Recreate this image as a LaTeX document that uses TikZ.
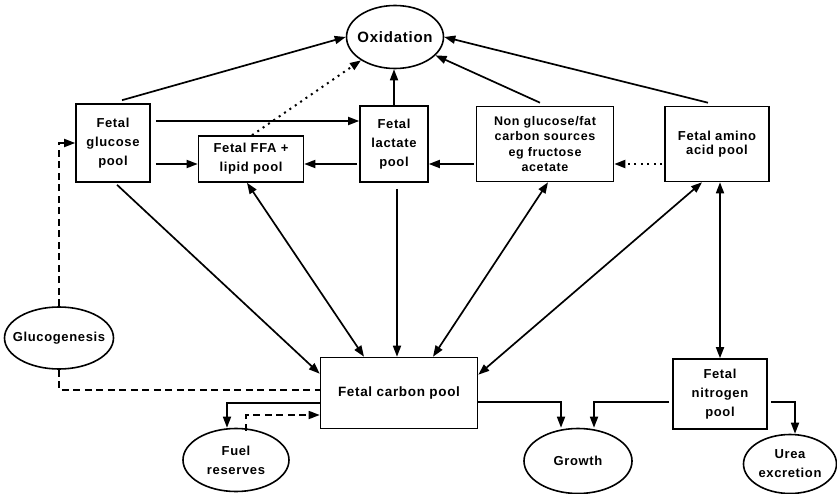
\documentclass[tikz,border=0pt]{standalone}
\usepackage{fontspec}
\setmainfont{Liberation Sans}[LetterSpace=5]
\usetikzlibrary{arrows.meta,shapes.geometric}
\begin{document}
\begin{tikzpicture}[
    x=1pt, y=-1pt,
    >={Triangle[length=11pt,width=8pt]},
    font=\bfseries\fontsize{13}{19}\selectfont,
    pool/.style={draw, line width=1.6pt, align=center, inner sep=0pt},
    proc/.style={draw, ellipse, line width=1.6pt, align=center, inner sep=0pt},
    flow/.style={line width=1.7pt, ->},
    dashline/.style={line width=1.7pt, dash pattern=on 7pt off 4.5pt},
    dotline/.style={line width=2pt, dash pattern=on 2pt off 4.5pt}
    ]
    \useasboundingbox (0,0) rectangle (837,494);
	\node [proc, minimum width=97pt, minimum height=63pt, inner xsep=-8pt, font=\bfseries\fontsize{15}{18}\selectfont] (oxid) at (395,37) {Oxidation};
	\node [pool, minimum width=74pt, minimum height=78pt] (gluc) at (113,143) {Fetal\\glucose\\pool};
	\node [pool, minimum width=105pt, minimum height=46pt] (ffa) at (251,159) {Fetal FFA +\\lipid pool};
	\node [pool, minimum width=68pt, minimum height=76pt] (lact) at (394,144) {Fetal\\lactate\\pool};
	\node [pool, minimum width=137pt, minimum height=75pt, font=\bfseries\fontsize{12.5}{15.5}\selectfont] (nong) at (545,144) {Non glucose/fat\\carbon sources\\eg fructose\\acetate};
	\node [pool, minimum width=104pt, minimum height=75pt, font=\bfseries\fontsize{13}{14.5}\selectfont] (amino) at (717,144) {Fetal amino\\acid pool};
	\node [proc, minimum width=109pt, minimum height=62pt, inner xsep=-12pt] (gluco) at (59,338) {Glucogenesis};
	\node [pool, minimum width=157pt, minimum height=71pt, font=\bfseries\fontsize{13.5}{19}\selectfont] (carb) at (399,393) {Fetal carbon pool};
	\node [pool, minimum width=94pt, minimum height=70pt] (nitro) at (720,394) {Fetal\\nitrogen\\pool};
	\node [proc, minimum width=106pt, minimum height=63pt] (fuel) at (236,460) {Fuel\\reserves};
	\node [proc, minimum width=108pt, minimum height=65pt] (growth) at (578,461) {Growth};
	\node [proc, minimum width=93pt, minimum height=59pt, inner xsep=-2pt] (urea) at (790,464) {Urea\\excretion};

	\coordinate (row) at ([yshift=-5pt]ffa.west);
	\draw [flow] ([xshift=9pt,yshift=3pt]gluc.north) -- (oxid.west);
	\draw [dotline, ->] ([xshift=1pt]ffa.north) -- (oxid);
	\draw [flow] (lact.north) -- (lact.north |- oxid.south);
	\draw [flow] ([xshift=-5pt,yshift=3pt]nong.north) -- (oxid);
	\draw [flow] ([xshift=-9pt,yshift=3pt]amino.north) -- (oxid.east);
	\draw [flow] ([xshift=5pt,yshift=22pt]gluc.east) -- ([yshift=22pt]gluc.east -| lact.west);
	\draw [flow] ([xshift=5pt]gluc.east |- row) -- (row);
	\draw [flow] ([xshift=-2pt]lact.west |- row) -- ([yshift=-5pt]ffa.east);
	\draw [flow] ([xshift=-2pt]nong.west |- row) -- (lact.east |- row);
	\draw [dotline, ->] ([xshift=-2pt]amino.west |- row) -- (nong.east |- row);
	\draw [flow] ([xshift=4pt,yshift=-2pt]gluc.south) -- ([yshift=-17pt]carb.north west);
	\draw [flow, <->] ([xshift=-4pt]ffa.south) -- ([xshift=-35pt]carb.north);
	\draw [flow] ([xshift=3pt,yshift=-6pt]lact.south) -- ([xshift=3pt]lact.south |- carb.north);
	\draw [flow, <->] ([xshift=3pt]nong.south) -- ([xshift=34pt]carb.north);
	\draw [flow, <->] ([xshift=-15pt]amino.south) -- ([yshift=-18pt]carb.north east);
	\draw [flow, <->] (nitro.north |- amino.south) -- (nitro.north);
	\draw [dashline, ->] (gluco.north) -- (gluco.north |- gluc.west) -- (gluc.west);
	\draw [dashline] (gluco.south) |- ([yshift=3pt]carb.west);
	\draw [flow] ([yshift=-10pt]carb.west) -| ([xshift=-9pt]fuel.north);
	\draw [dashline, ->] ([xshift=10pt,yshift=-3pt]fuel.north) |- ([yshift=-22pt]carb.west);
	\draw [flow] ([yshift=-9pt]carb.east) -| ([xshift=-17pt]growth.north);
	\draw [flow] ([xshift=-3pt,yshift=-8pt]nitro.west) -| ([xshift=16pt]growth.north);
	\draw [flow] ([xshift=3pt,yshift=-8pt]nitro.east) -| ([xshift=5pt]urea.north);
\end{tikzpicture}
\end{document}
